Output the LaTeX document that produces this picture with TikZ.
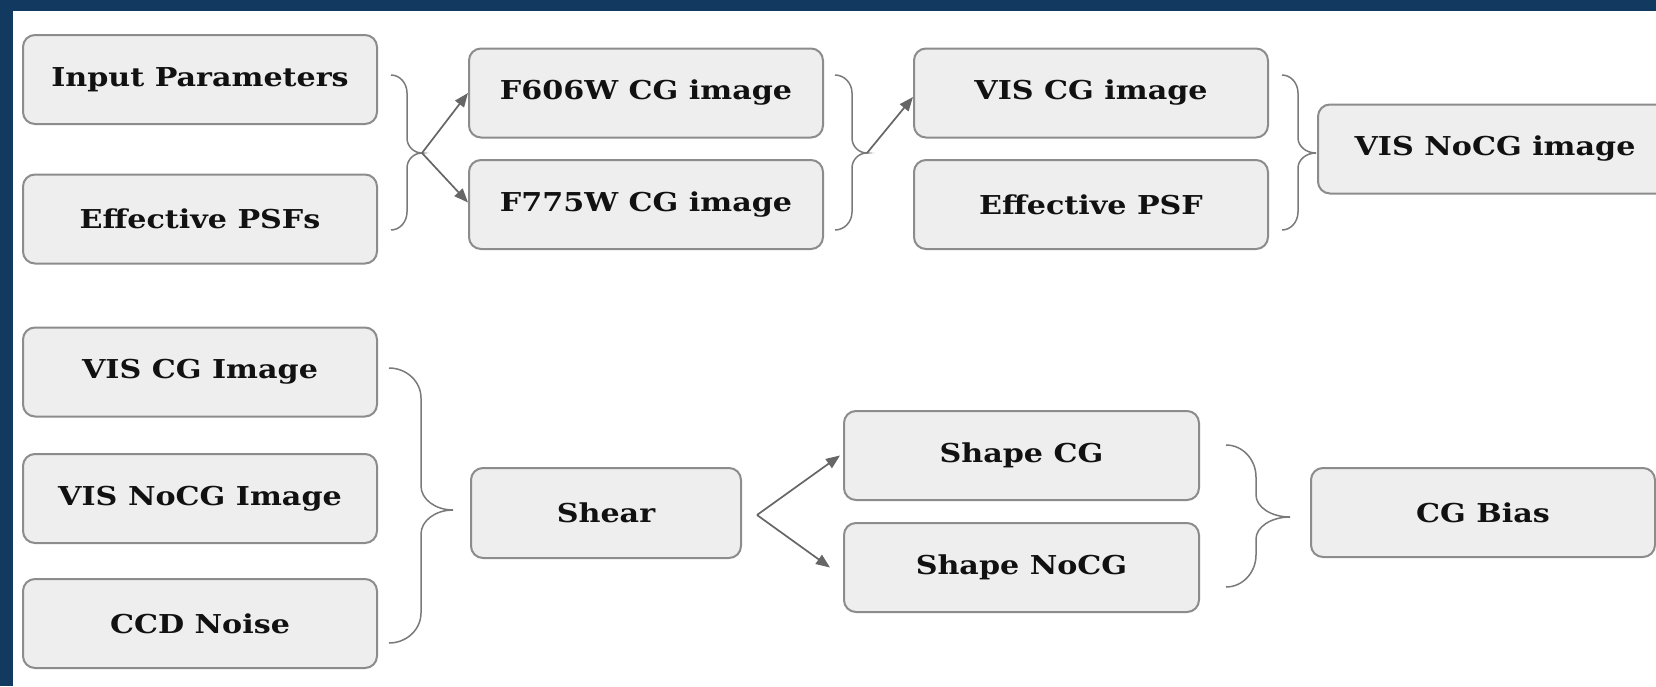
\documentclass[tikz,border=0pt]{standalone}
\usepackage{fontspec}
\setmainfont{DejaVu Serif}[FakeStretch=1.16]
\usetikzlibrary{arrows.meta}
\definecolor{framecol}{HTML}{123A60}
\definecolor{boxfill}{HTML}{EEEEEE}
\definecolor{boxdraw}{HTML}{8C8C8C}
\definecolor{linecol}{HTML}{7A7A7A}
\definecolor{arrcol}{HTML}{666666}
\definecolor{txtcol}{HTML}{111111}
\newcommand\mybrace[8]{%
 \draw[brc] (#1,#2) .. controls ({#1+0.55*(#3-#1)},#2) and (#3,{#2+0.45*#7}) .. (#3,{#2+#7})
 -- (#3,{#5-#8}) .. controls (#3,{#5-0.45*#8}) and ({#3+0.45*(#4-#3)},#5) .. (#4,#5)
 .. controls ({#3+0.45*(#4-#3)},#5) and (#3,{#5+0.45*#8}) .. (#3,{#5+#8})
 -- (#3,{#6-#7}) .. controls (#3,{#6-0.45*#7}) and ({#1+0.55*(#3-#1)},#6) .. (#1,#6);}
\tikzset{
 box/.style={draw=boxdraw, fill=boxfill, line width=1pt, rounded corners=6pt,
   minimum width=177pt, minimum height=44.5pt, inner sep=0pt, align=center,
   text=txtcol, font=\fontsize{13pt}{15pt}\selectfont\bfseries},
 brc/.style={draw=linecol, line width=0.75pt},
 arr/.style={draw=arrcol, line width=0.85pt, -{Triangle[length=7pt,width=5.5pt]}}
}
\begin{document}
\begin{tikzpicture}[x=0.5pt,y=-0.5pt]
\useasboundingbox (0,0) rectangle (1656,686);
\clip (0,0) rectangle (1656,686);
\fill[framecol] (0,0) rectangle (1656,686);
\fill[white] (13,11) rectangle (1660,690);
% top row
\node[box] (inp) at (200,79.5) {Input Parameters};
\node[box] (eff) at (200,219) {Effective PSFs};
\node[box] (f606) at (646,93) {F606W CG image};
\node[box] (f775) at (646,204.5) {F775W CG image};
\node[box] (viscg) at (1091,93) {VIS CG image};
\node[box] (effpsf) at (1091,204.5) {Effective PSF};
\node[box] (visnocg) at (1495,149) {VIS NoCG image};
% bottom row
\node[box] (viscgI) at (200,372) {VIS CG Image};
\node[box] (visnocgI) at (200,498.5) {VIS NoCG Image};
\node[box] (ccd) at (200,623.5) {CCD Noise};
\node[box, minimum width=135pt, minimum height=45pt] (shear) at (606,513) {Shear};
\node[box, minimum width=177.5pt] (shapecg) at (1021.5,455.5) {Shape CG};
\node[box, minimum width=177.5pt] (shapenocg) at (1021.5,567.5) {Shape NoCG};
\node[box, minimum width=172pt] (cgbias) at (1483,512.5) {CG Bias};
% braces
\mybrace{391}{75}{407}{422}{153}{230}{18}{15}
\mybrace{835}{75}{852}{867}{153}{230}{18}{15}
\mybrace{1282}{75}{1298}{1316}{153}{230}{18}{15}
\mybrace{389}{368}{421}{453}{510}{643}{30}{24}
\mybrace{1226}{445}{1256}{1290}{517}{587}{32}{22}
% tips
\coordinate (t1) at (422,153);
\coordinate (t2) at (867,153);
\coordinate (t3) at (757,515);
\draw[arr] (t1) -- (f606.west);
\draw[arr] (t1) -- ([yshift=1pt]f775.west);
\draw[arr] (t2) -- ([yshift=-2pt]viscg.west);
\draw[arr] (t3) -- ([xshift=-1.5pt]shapecg.west);
\draw[arr] (t3) -- ([xshift=-6.5pt]shapenocg.west);
\end{tikzpicture}
\end{document}
